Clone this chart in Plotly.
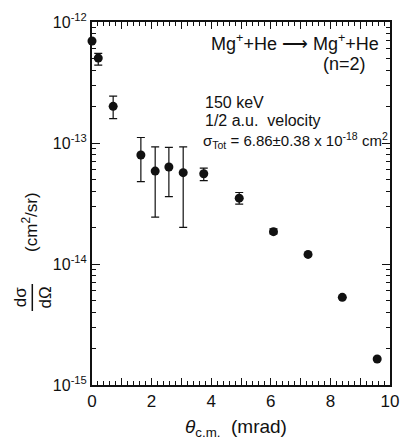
import numpy as np
import plotly.graph_objects as go

# data
theta = [0.0, 0.21, 0.71, 1.64, 2.12, 2.58, 3.06, 3.75, 4.94, 6.09, 7.25, 8.40, 9.57]
dsdo = [6.96e-13, 5.03e-13, 2.01e-13, 7.96e-14, 5.86e-14, 6.33e-14, 5.69e-14,
        5.57e-14, 3.50e-14, 1.85e-14, 1.20e-14, 5.3e-15, 1.64e-15]
upper = [None, 5.5e-13, 2.44e-13, 1.11e-13, 9.3e-14, 9.2e-14, 9.3e-14,
         6.2e-14, 3.9e-14, 1.95e-14, None, None, None]
lower = [None, 4.4e-13, 1.59e-13, 4.79e-14, 2.44e-14, 3.6e-14, 2.01e-14,
         4.88e-14, 3.13e-14, 1.77e-14, None, None, None]

x_tickvals = list(range(0, 11))
x_ticktext = ["0", "", "2", "", "4", "", "6", "", "8", "", "10"]
y_tickvals = [1e-15, 1e-14, 1e-13, 1e-12]
y_ticktext = ["10<sup>-15</sup>", "10<sup>-14</sup>", "10<sup>-13</sup>", "10<sup>-12</sup>"]
y_minor = [m * 10.0 ** e for e in (-15, -14, -13) for m in range(2, 10)]

FONT = "Liberation Sans"
INK = "#111111"

W, H = 407, 444
ML, MR, MT, MB = 92, 8, 22, 59
PW, PH = W - ML - MR, H - MT - MB

def px(x):
    return (x - ML) / PW

def py(y):
    return (H - MB - y) / PH

idx_e = [i for i in range(len(theta)) if upper[i] is not None]
idx_n = [i for i in range(len(theta)) if upper[i] is None]

fig = go.Figure()
fig.add_trace(go.Scatter(
    x=[theta[i] for i in idx_e], y=[dsdo[i] for i in idx_e], mode="markers",
    marker=dict(color=INK, size=9),
    error_y=dict(type="data", symmetric=False,
                 array=[upper[i] - dsdo[i] for i in idx_e],
                 arrayminus=[dsdo[i] - lower[i] for i in idx_e],
                 color=INK, thickness=1.2, width=4),
    cliponaxis=False, showlegend=False))
fig.add_trace(go.Scatter(
    x=[theta[i] for i in idx_n], y=[dsdo[i] for i in idx_n], mode="markers",
    marker=dict(color=INK, size=9), cliponaxis=False, showlegend=False))

fig.update_xaxes(range=[0, 10], tickmode="array", tickvals=x_tickvals, ticktext=x_ticktext,
                 ticks="inside", ticklen=7, tickwidth=1, tickcolor=INK,
                 minor=dict(tickmode="linear", tick0=0, dtick=0.2, ticks="inside",
                            ticklen=4, tickcolor=INK, tickwidth=1, showgrid=False),
                 showline=True, linecolor=INK, linewidth=2, mirror="ticks",
                 showgrid=False, zeroline=False,
                 tickfont=dict(family=FONT, size=17, color=INK))
fig.update_yaxes(type="log", range=[-15, -12], tickmode="array",
                 tickvals=y_tickvals, ticktext=y_ticktext,
                 ticks="inside", ticklen=8, tickwidth=1, tickcolor=INK,
                 minor=dict(tickmode="array", tickvals=y_minor, ticks="inside",
                            ticklen=4, tickcolor=INK, tickwidth=1, showgrid=False),
                 showline=True, linecolor=INK, linewidth=2, mirror="ticks",
                 showgrid=False, zeroline=False,
                 tickfont=dict(family=FONT, size=16, color=INK))

ann = []
def add(text, x, y, size=15, xanchor="left", angle=0):
    ann.append(dict(text=text, x=px(x), y=py(y), xref="paper", yref="paper",
                    showarrow=False, xanchor=xanchor, yanchor="middle",
                    textangle=angle, font=dict(family=FONT, size=size, color=INK)))

add("Mg<sup>+</sup>+He ⟶ Mg<sup>+</sup>+He", 213, 42, size=18)
add("(n=2)", 376, 64, size=18, xanchor="right")
add("150 keV", 206, 102, size=16)
add("1/2 a.u.  velocity", 206, 121, size=16)
add("σ<sub>Tot</sub> = 6.86±0.38 x 10<sup>-18</sup> cm<sup>2</sup>", 204, 140, size=15)
add("<i>θ</i><sub>c.m.</sub>  (mrad)", 240, 428, size=19, xanchor="center")
add("(cm<sup>2</sup>/sr)", 28, 222, size=17, xanchor="center", angle=-90)
add("dσ", 18, 297, size=17, xanchor="center", angle=-90)
add("dΩ", 44, 297, size=17, xanchor="center", angle=-90)

fig.update_layout(
    width=W, height=H, margin=dict(l=ML, r=MR, t=MT, b=MB),
    paper_bgcolor="white", plot_bgcolor="white",
    annotations=ann,
    shapes=[dict(type="line", xref="paper", yref="paper",
                 x0=px(30.5), x1=px(30.5), y0=py(284), y1=py(311),
                 line=dict(color=INK, width=1.5))],
)

fig.write_html("out.html")
